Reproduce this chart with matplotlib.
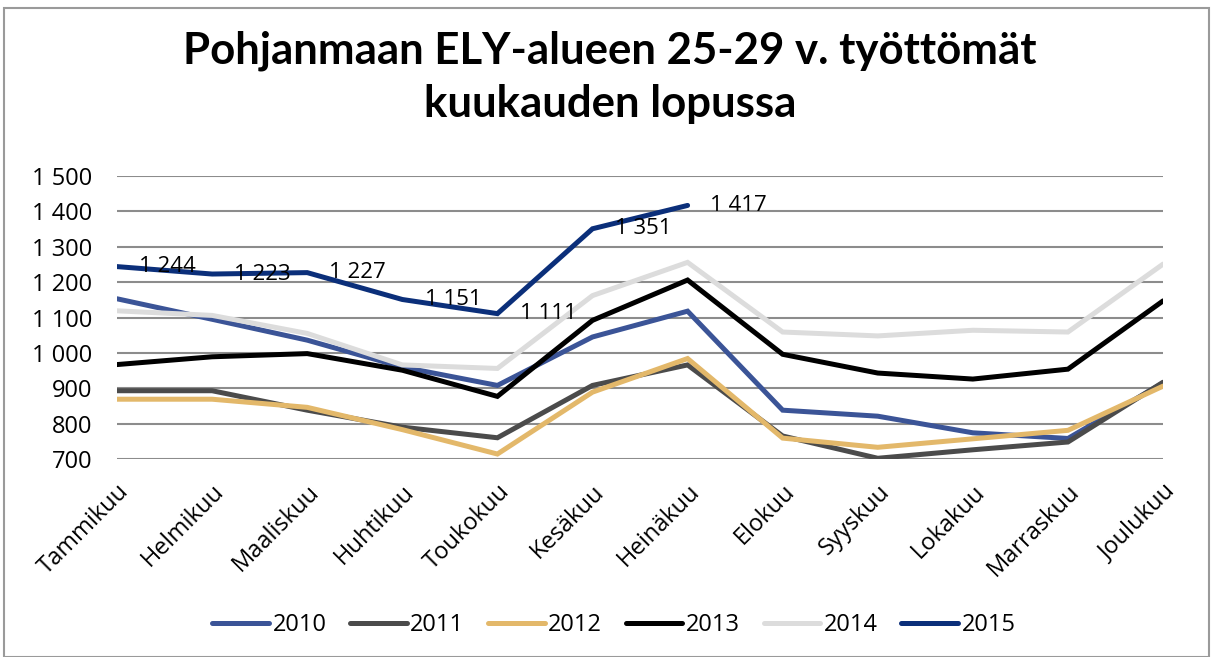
import matplotlib.pyplot as plt
from matplotlib.patches import Rectangle

plt.rcParams['font.family'] = ['Open Sans', 'DejaVu Sans']

# Months
months = ['Tammikuu', 'Helmikuu', 'Maaliskuu', 'Huhtikuu', 'Toukokuu', 'Kesäkuu',
          'Heinäkuu', 'Elokuu', 'Syyskuu', 'Lokakuu', 'Marraskuu', 'Joulukuu']

# Unemployed 25-29 year olds, end of month
y2010 = [1153, 1095, 1036, 960, 908, 1045, 1118, 838, 821, 774, 758, 915]
y2011 = [893, 893, 838, 790, 760, 908, 966, 765, 702, 726, 748, 917]
y2012 = [869, 869, 846, 783, 714, 889, 984, 759, 733, 757, 781, 906]
y2013 = [967, 989, 998, 951, 877, 1092, 1206, 996, 943, 926, 954, 1147]
y2014 = [1119, 1106, 1055, 966, 956, 1162, 1256, 1059, 1048, 1064, 1059, 1251]
y2015 = [1244, 1223, 1227, 1151, 1111, 1351, 1417]

series = [('2010', y2010, '#3B5497'),
          ('2011', y2011, '#4B4B4B'),
          ('2012', y2012, '#E3B86A'),
          ('2013', y2013, '#000000'),
          ('2014', y2014, '#DCDCDC'),
          ('2015', y2015, '#0B2F7A')]

yticks = [700, 800, 900, 1000, 1100, 1200, 1300, 1400, 1500]

fig = plt.figure(figsize=(12.13, 6.57), dpi=100)
ax = fig.add_axes([0.0965, 0.3014, 0.8623, 0.4306])

# Outer frame
fig.patches.append(Rectangle((0.003, 0.0), 0.994, 0.988, transform=fig.transFigure,
                             fill=False, edgecolor='#9A9A9A', linewidth=1.5))

for name, vals, col in series:
    ax.plot(range(len(vals)), vals, color=col, linewidth=3.6, label=name,
            solid_capstyle='round', solid_joinstyle='miter')

# Data labels for 2015
for i, v in enumerate(y2015):
    ax.annotate(f'{v:,}'.replace(',', ' '), (i, v), xytext=(16, 0),
                textcoords='offset points', ha='left', va='center', fontsize=16)

ax.set_xlim(0, 11)
ax.set_ylim(700, 1500)
ax.set_yticks(yticks)
ax.set_yticklabels([f'{t:,}'.replace(',', ' ') for t in yticks], fontsize=17)
ax.set_xticks(range(12))
ax.set_xticklabels(months, rotation=45, ha='right', rotation_mode='anchor', fontsize=17)
ax.tick_params(axis='y', length=0, pad=18)
ax.tick_params(axis='x', length=0, pad=15)
ax.grid(axis='y', color='#8C8C8C', linewidth=1.5)
ax.set_axisbelow(True)
for s in ax.spines.values():
    s.set_visible(False)

fig.text(0.503, 0.882, 'Pohjanmaan ELY-alueen 25-29 v. työttömät\nkuukauden lopussa',
         ha='center', va='center', fontsize=31.5, fontweight='bold', linespacing=1.4,
         family=['Lato', 'DejaVu Sans'])

ax.legend(loc='center', bbox_to_anchor=(0.475, -0.587), ncol=6, frameon=False,
          fontsize=17, handlelength=2.4, handletextpad=0.15, columnspacing=1.0)

fig.savefig('out.png', dpi=100)
